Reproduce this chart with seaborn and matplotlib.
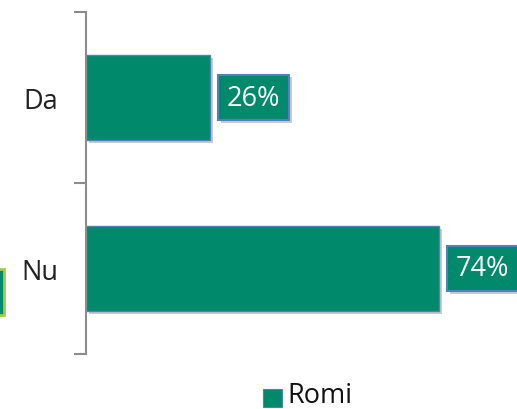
import matplotlib
matplotlib.use("Agg")
import matplotlib.pyplot as plt
import matplotlib.patheffects as pe
from matplotlib.patches import Rectangle
import seaborn as sns
import pandas as pd

categories = ["Da", "Nu"]
values = [26, 74]
value_labels = ["26%", "74%"]
series_name = "Romi"

GREEN = "#00896A"
BLUE_EDGE = "#4F81BD"

sns.set_theme(style="white")
plt.rcParams["font.family"] = ["Open Sans", "DejaVu Sans"]

df = pd.DataFrame({"cat": categories, "val": values, "series": series_name})

W, H = 517, 410
fig = plt.figure(figsize=(W / 100, H / 100), dpi=100)
ax = fig.add_axes([86 / W, 1 - 355 / H, 1 - 86 / W, (355 - 13) / H])

shadow = [pe.SimplePatchShadow(offset=(2, -2), shadow_rgbFace="#999999", alpha=0.5), pe.Normal()]

sns.barplot(data=df, y="cat", x="val", hue="series", palette=[GREEN], orient="h",
            width=0.5, ax=ax, edgecolor=BLUE_EDGE, linewidth=1.0, legend=False,
            saturation=1)
for p in ax.patches:
    p.set_path_effects(shadow)

px_per_unit = (439 - 86) / 74.0
ax.set_xlim(0, (W - 86) / px_per_unit)
ax.set_ylim(1.5, -0.5)

for i, (v, lab) in enumerate(zip(values, value_labels)):
    t = ax.annotate(lab, xy=(v, i), xytext=(12, 0), textcoords="offset points",
                    va="center", ha="left", color="white", fontsize=19.5,
                    bbox=dict(boxstyle="square,pad=0.33", fc=GREEN, ec=BLUE_EDGE, lw=1.5))
    t.get_bbox_patch().set_path_effects(shadow)

ax.set_xlabel("")
ax.set_ylabel("")
ax.set_xticks([])
ax.set_yticks([0, 1])
ax.set_yticklabels(categories, fontsize=19.5, color="#222222")
ax.tick_params(axis="y", which="major", length=0, pad=20)
ax.set_yticks([-0.5, 0.5, 1.5], minor=True)
ax.tick_params(axis="y", which="minor", length=9, width=1.5, color="#8C8C8C", left=True)
for s in ["top", "right", "bottom"]:
    ax.spines[s].set_visible(False)
ax.spines["left"].set_color("#8C8C8C")
ax.spines["left"].set_linewidth(1.5)

# legend
fig.patches.append(Rectangle((263 / W, 1 - 408 / H), 19 / W, 18 / H, transform=fig.transFigure,
                             fc=GREEN, ec=BLUE_EDGE, lw=0.8))
fig.text(287 / W, 1 - 396 / H, series_name, fontsize=19.5, va="center", ha="left", color="#111111")

# cropped fragment at left edge
fig.patches.append(Rectangle((-10 / W, 1 - 316 / H), 14 / W, 46 / H, transform=fig.transFigure,
                             fc=GREEN, ec="#A8C84A", lw=2))

fig.savefig("out.png", dpi=100)
